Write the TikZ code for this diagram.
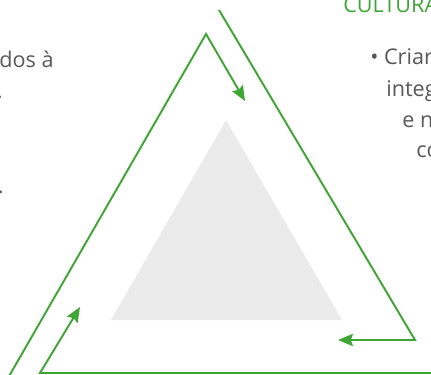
\documentclass[tikz,border=0pt]{standalone}
\usepackage{fontspec}
\setmainfont{Open Sans}
\usetikzlibrary{arrows.meta}
\definecolor{cycgreen}{RGB}{63,165,53}
\definecolor{bodygray}{RGB}{88,88,88}
\definecolor{coregray}{RGB}{235,235,235}
\tikzset{
  cycflow/.style={draw=cycgreen, line width=1.1pt, line join=miter,
    -{Stealth[length=8.5pt,width=7pt,inset=1.2pt]}},
  core/.style={fill=coregray, draw=none},
  txt/.style={font=\fontsize{12.3}{18}\selectfont, text=bodygray, inner sep=0pt},
  head/.style={txt, text=cycgreen}
}
\begin{document}
\begin{tikzpicture}[x=0.02cm, y=-0.02cm]
  \useasboundingbox (0,0) rectangle (431,374);
  % grey core
  \fill[core] (226,120) -- (342,320) -- (111,320) -- cycle;
  % corners of the three arrows
  \coordinate (a0) at (8,378);
  \coordinate (a1) at (206,34);
  \coordinate (a2) at (245,101);
  \coordinate (b0) at (219,10);
  \coordinate (b1) at (415,340);
  \coordinate (b2) at (338,340);
  \coordinate (c0) at (440,373);
  \coordinate (c1) at (40,373);
  \coordinate (c2) at (80,307);
  \draw[cycflow] (a0) -- (a1) -- (a2);
  \draw[cycflow] (b0) -- (b1) -- (b2);
  \draw[cycflow] (c0) -- (c1) -- (c2);
  % texts
  \node[txt, anchor=base east] (left1) at (54,68) {dos à};
  \node[txt, anchor=base east] (left2) at (3,99) {.};
  \node[txt, anchor=base east] (left5) at (4,194) {.};
  \node[head, anchor=base west] (title) at (343,13) {CULTURA};
  \node[txt, anchor=base west] (right1) at (370,65) {• Criar};
  \node[txt, anchor=base west] (right2) at (386,97) {integ};
  \node[txt, anchor=base west] (right3) at (402,128) {e n};
  \node[txt, anchor=base west] (right4) at (416,158) {co};
\end{tikzpicture}
\end{document}
